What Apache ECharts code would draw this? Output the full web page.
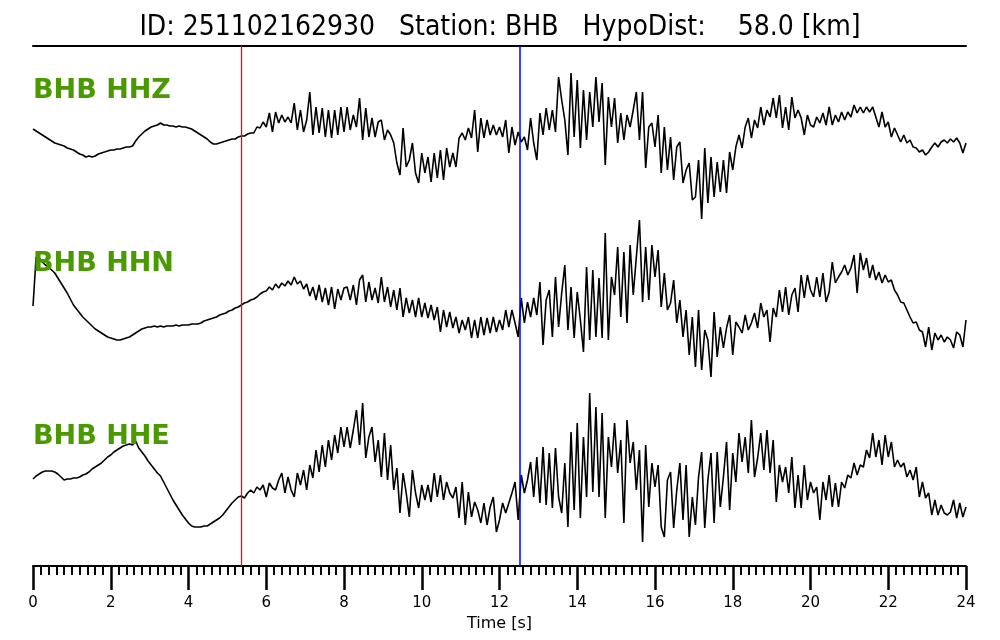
<!DOCTYPE html>
<html><head><meta charset="utf-8">
<script src="https://cdn.jsdelivr.net/npm/echarts@6/dist/echarts.min.js"></script>
<style>html,body{margin:0;padding:0;background:#fff}#c{width:1000px;height:640px}</style>
</head><body><div id="c"></div>
<script>
// sample step of the traces, seconds
const DT = 0.08;
const traceNames = ['BHB HHZ', 'BHB HHN', 'BHB HHE'];
// relative ground-motion amplitudes (arbitrary units), t = i*DT
const hhz = [1,-1,-3,-5,-7,-9,-11,-13,-14,-15,
-16,-18,-19,-20,-22,-24,-25,-27,-26,-27,
-26,-24,-23,-22,-21,-20,-20,-19,-19,-18,
-17,-17,-16,-11,-7,-4,-1,1,3,4,
5,7,5,5,4,4,3,4,3,3,
2,1,-1,-3,-5,-7,-9,-12,-14,-14,
-13,-12,-11,-10,-9,-9,-7,-6,-6,-4,
-3,-3,3,2,8,3,17,-2,18,7,
15,8,13,7,27,0,20,-2,10,38,
-5,23,-3,22,-7,20,-8,20,-5,23,
-2,23,0,15,3,32,-10,22,-7,12,
-7,8,10,-10,0,-5,-13,-33,-45,2,
-37,-30,-13,-43,-53,-23,-43,-27,-52,-23,
-48,-20,-50,-18,-37,-23,-37,-8,-3,-10,
2,-8,20,-22,12,-8,10,-5,5,-5,
3,-7,10,-23,3,-15,-2,-12,-7,-20,
12,-13,-30,17,-5,22,0,20,-2,53,
30,10,-25,57,-7,50,-18,40,-10,38,
3,53,8,47,-35,33,3,32,-13,17,
-10,15,3,20,38,-10,38,-38,3,7,
-17,15,-43,3,-40,-7,-50,-17,-12,-53,
-40,-33,-70,-67,-30,-89,-18,-73,-27,-67,
-32,-62,-30,-63,-22,-40,-17,-5,-18,3,
12,-8,10,2,23,5,20,13,32,12,
35,2,23,0,33,12,20,12,-5,15,
5,3,13,7,17,5,23,5,15,8,
18,10,18,13,25,17,23,17,23,18,
23,13,3,18,3,8,-7,2,-5,-12,
-5,-13,-10,-17,-18,-22,-20,-25,-22,-17,
-13,-17,-12,-10,-13,-9,-12,-8,-13,-23,
-13];
const hhn = [-6,43,42,38,35,33,30,27,22,17,
12,7,1,-5,-9,-13,-17,-20,-23,-26,
-29,-31,-33,-35,-37,-38,-39,-40,-40,-39,
-38,-37,-35,-33,-31,-29,-28,-27,-27,-26,
-27,-26,-27,-26,-26,-26,-25,-26,-25,-25,
-25,-24,-24,-24,-23,-21,-20,-19,-18,-17,
-15,-14,-13,-11,-10,-8,-7,-5,-3,-2,
0,1,3,6,8,9,13,10,16,12,
17,14,19,15,23,16,19,11,16,4,
13,0,15,-2,12,-5,13,-9,11,0,
12,13,0,15,-5,20,25,-2,18,0,
12,-3,23,-2,13,-7,10,-10,12,-17,
2,-13,0,-17,2,-17,-3,-18,-5,-20,
-7,-32,-10,-27,-12,-28,-17,-33,-20,-30,
-17,-38,-20,-38,-17,-35,-18,-33,-17,-32,
-20,-30,-10,-27,-10,-23,-37,2,-23,-2,
-17,2,-15,18,-45,0,10,-37,23,-27,
7,35,-30,13,-38,8,-20,-52,33,-40,
30,-37,22,-38,67,-40,23,5,53,-17,
48,-23,55,5,43,80,-2,53,0,55,
23,50,-7,27,-10,-3,20,-23,0,-37,
-10,-55,-17,-67,-10,-70,-30,-40,-77,-12,
-57,-27,-48,-28,-15,-55,-22,-27,-33,-15,
-30,-23,-13,-28,-3,-17,-10,-42,-8,-17,
10,-12,13,-15,5,12,-12,25,2,25,
10,3,23,3,27,-2,8,38,17,23,
28,35,25,32,45,7,47,30,42,22,
35,20,28,17,25,18,20,10,5,-2,
-3,-10,-17,-23,-22,-30,-32,-47,-27,-50,
-33,-40,-35,-42,-37,-40,-48,-32,-35,-47,
-20];
const hhe = [1,4,6,8,9,9,9,8,6,3,
0,1,1,2,2,3,5,6,8,11,
13,15,17,20,23,25,28,30,32,34,
35,36,35,39,32,28,24,19,15,11,
7,4,-2,-8,-14,-20,-25,-30,-35,-39,
-43,-46,-47,-47,-47,-46,-46,-44,-42,-40,
-38,-35,-31,-27,-23,-20,-17,-16,-18,-13,
-10,-13,-7,-10,-5,-17,-3,-8,-10,0,
7,-13,3,-10,-17,7,-5,10,-10,15,
2,30,8,35,13,40,20,45,27,53,
33,53,32,50,70,35,77,22,43,53,
18,40,3,47,0,35,-10,12,-33,7,
-13,-37,10,-13,-28,-5,-20,-5,-22,7,
-17,5,-20,-2,-13,-18,-7,-38,-2,-45,
-12,-37,-22,-30,-43,-23,-45,-27,-17,-52,
-40,-23,-33,-23,-13,-2,-40,5,-13,0,
18,-17,23,-23,33,-25,27,-28,32,-17,
-33,17,-47,48,-30,57,-38,43,-17,87,
-12,73,-17,67,-38,43,13,57,7,40,
-43,60,17,38,-10,30,-62,35,-27,17,
-7,15,-47,-57,0,8,-48,-10,17,-40,
15,-57,-17,-45,3,28,-48,0,27,-43,
28,-27,3,38,-30,27,-2,47,18,43,
7,60,3,22,47,10,50,7,40,-22,
15,-2,13,-13,23,-28,5,-28,15,-20,
-2,-13,-7,-40,-2,-20,5,-27,-3,-27,
-2,-8,5,2,17,5,15,13,30,22,
47,23,40,15,45,23,38,13,20,13,
17,3,10,0,13,-17,-2,-18,-13,-35,
-20,-35,-25,-33,-35,-32,-20,-38,-23,-37,
-27];
// phase picks (s)
const pPick = 5.35;
const sPick = 12.53;
const titleText = 'ID: 251102162930   Station: BHB   HypoDist:    58.0 [km]';
const xLabel = 'Time [s]';

const traces = [hhz, hhn, hhe];
const offsets = [436, 266, 86];      // vertical stacking of the traces
const labelY = [91, 264, 437];

const chart = echarts.init(document.getElementById('c'), null, {renderer: 'canvas'});
const series = traces.map((arr, k) => ({
  type: 'line', name: traceNames[k], xAxisIndex: 0, yAxisIndex: 0,
  data: arr.map((v, i) => [+(i * DT).toFixed(2), v + offsets[k]]),
  showSymbol: false, symbol: 'none', smooth: false,
  lineStyle: {color: '#000', width: 1.6}, z: 2, animation: false
}));
series.push({
  type: 'line', data: [], z: 5, silent: true, animation: false,
  markLine: {
    silent: true, symbol: ['none', 'none'], label: {show: false}, animation: false,
    data: [
      {xAxis: pPick, lineStyle: {color: '#ff0000', width: 1.3, type: 'solid'}},
      {xAxis: sPick, lineStyle: {color: '#0000ff', width: 1.5, type: 'solid'}}
    ]
  }
});

chart.setOption({
  animation: false,
  backgroundColor: '#fff',
  grid: {left: 33, right: 34, top: 46, bottom: 74, containLabel: false},
  xAxis: [{
    type: 'value', min: 0, max: 24, interval: 2, position: 'bottom',
    axisLine: {show: true, onZero: false, lineStyle: {color: '#000', width: 2}},
    axisTick: {show: true, length: 24, lineStyle: {color: '#000', width: 2.5}},
    minorTick: {show: true, splitNumber: 10, length: 9, lineStyle: {color: '#000', width: 2}},
    splitLine: {show: false},
    axisLabel: {show: true, color: '#000', fontSize: 15, fontFamily: 'DejaVu Sans', margin: 30},
    name: xLabel, nameLocation: 'middle', nameGap: 43,
    nameTextStyle: {color: '#000', fontSize: 16, fontFamily: 'DejaVu Sans'}
  }, {
    type: 'value', min: 0, max: 24, position: 'top',
    axisLine: {show: true, onZero: false, lineStyle: {color: '#000', width: 2}},
    axisTick: {show: false}, axisLabel: {show: false}, splitLine: {show: false}
  }],
  yAxis: {type: 'value', min: 0, max: 520, show: false, splitLine: {show: false}},
  series: series,
  graphic: [
    {type: 'text', left: 'center', top: 14, z: 10,
     style: {text: titleText, fill: '#000', font: '28px "DejaVu Sans Condensed", "DejaVu Sans"'}}
  ].concat(traceNames.map((n, k) => ({
    type: 'text', x: 33, y: labelY[k], z: 10,
    style: {text: n, fill: '#4a9900', font: 'bold 27px "DejaVu Sans"', verticalAlign: 'middle', textVerticalAlign: 'middle'}
  })))
});
</script></body></html>
